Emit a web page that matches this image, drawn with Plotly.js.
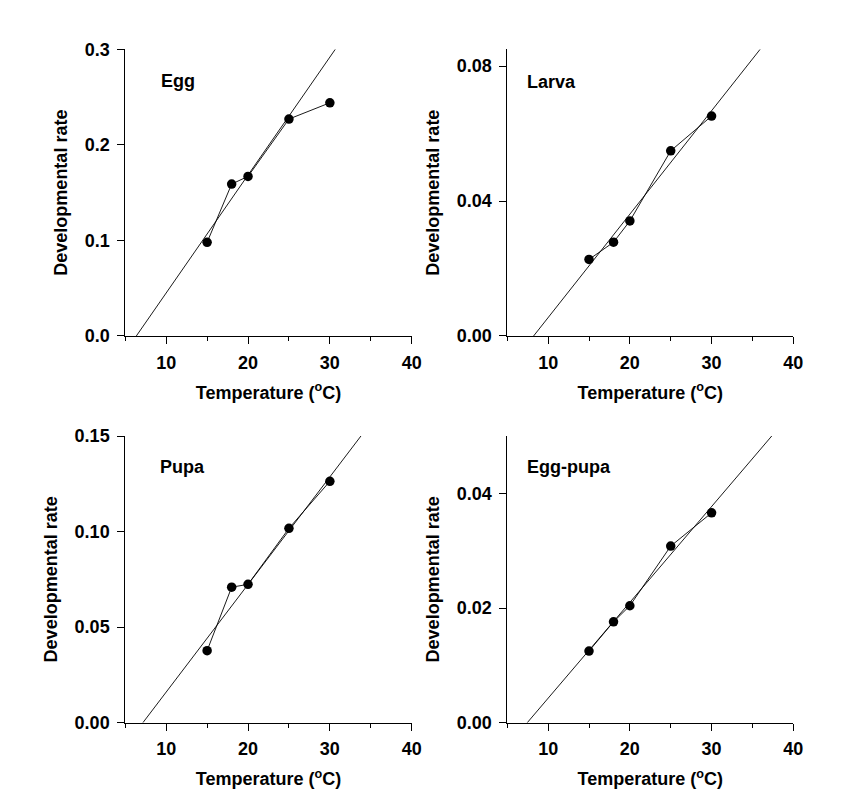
<!DOCTYPE html>
<html>
<head>
<meta charset="utf-8">
<script src="https://cdn.plot.ly/plotly-3.0.1.min.js"></script>
<style>html,body{margin:0;padding:0;background:#fff;}</style>
</head>
<body>
<div id="chart" style="width:851px;height:804px;"></div>
<script>
// Data
const temperature = [15, 18, 20, 25, 30];
const stageNames = ["Egg", "Larva", "Pupa", "Egg-pupa"];
const eggRate = [0.098, 0.159, 0.167, 0.227, 0.244];
const larvaRate = [0.0227, 0.0278, 0.0341, 0.0549, 0.0652];
const pupaRate = [0.0377, 0.0709, 0.0724, 0.1017, 0.1263];
const eggPupaRate = [0.0125, 0.0176, 0.0204, 0.0308, 0.0366];
// Linear fit: rate = slope * (T - threshold)
const fitThreshold = [6.35, 8.22, 7.15, 7.44];
const fitSlope = [0.01234, 0.003066, 0.005629, 0.001671];
// Axis settings
const yMax = [0.3, 0.085, 0.15, 0.05];
const yDtick = [0.1, 0.04, 0.05, 0.02];
const yFormat = [".1f", ".2f", ".2f", ".2f"];
const xRange = [5, 40];

const rates = [eggRate, larvaRate, pupaRate, eggPupaRate];
const FONT = "Liberation Sans, Arial, sans-serif";

const xDomains = [[0.1472, 0.4838], [0.5961, 0.9322], [0.1472, 0.4838], [0.5961, 0.9322]];
const yDomains = [[0.5821, 0.9387], [0.5821, 0.9387], [0.1011, 0.4577], [0.1011, 0.4577]];
const labelPos = [[0.1865, 0.8996], [0.6166, 0.8984], [0.1857, 0.4196], [0.6166, 0.4196]];

const traces = [];
const layout = {
  width: 851, height: 804,
  margin: {l: 0, r: 0, t: 0, b: 0},
  paper_bgcolor: "#fff", plot_bgcolor: "#fff",
  showlegend: false,
  font: {family: FONT, color: "#000", size: 18},
  annotations: []
};

for (let i = 0; i < 4; i++) {
  const ax = i === 0 ? "" : String(i + 1);
  const xa = "x" + ax, ya = "y" + ax;
  // fit line endpoints from fit parameters (y = 0 to y = axis top)
  const x0 = fitThreshold[i];
  const x1 = fitThreshold[i] + yMax[i] / fitSlope[i];
  traces.push({
    x: [x0, x1], y: [0, fitSlope[i] * (x1 - x0)],
    xaxis: xa, yaxis: ya, mode: "lines",
    line: {color: "#000", width: 0.9}, hoverinfo: "skip"
  });
  traces.push({
    x: temperature, y: rates[i],
    xaxis: xa, yaxis: ya, mode: "lines+markers",
    line: {color: "#000", width: 0.9},
    marker: {color: "#000", size: 9.5}
  });
  layout["xaxis" + ax] = {
    domain: xDomains[i], anchor: ya, range: xRange,
    showgrid: false, zeroline: false, showline: true, linecolor: "#000", linewidth: 1,
    ticks: "outside", ticklen: 7, tickwidth: 1, tickcolor: "#000",
    tick0: 0, dtick: 10,
    minor: {ticks: "outside", ticklen: 4, tickwidth: 1, tickcolor: "#000", dtick: 5, tick0: 0, showgrid: false},
    tickfont: {family: FONT, size: 18, weight: "bold"},
    ticklabelstandoff: 3,
    title: {text: "Temperature (<sup>o</sup>C)", font: {family: FONT, size: 18, weight: "bold"}, standoff: 14}
  };
  layout["yaxis" + ax] = {
    domain: yDomains[i], anchor: xa, range: [0, yMax[i]],
    showgrid: false, zeroline: false, showline: true, linecolor: "#000", linewidth: 1,
    ticks: "outside", ticklen: 7, tickwidth: 1, tickcolor: "#000",
    tick0: 0, dtick: yDtick[i], tickformat: yFormat[i],
    tickfont: {family: FONT, size: 18, weight: "bold"},
    ticklabelstandoff: 4,
    title: {text: "Developmental rate", font: {family: FONT, size: 18, weight: "bold"}, standoff: 12}
  };
  layout.annotations.push({
    text: stageNames[i], xref: "paper", yref: "paper",
    x: labelPos[i][0], y: labelPos[i][1], xanchor: "left", yanchor: "middle",
    showarrow: false, font: {family: FONT, size: 18, weight: "bold", color: "#000"}
  });
}

Plotly.newPlot("chart", traces, layout, {staticPlot: true});
</script>
</body>
</html>
